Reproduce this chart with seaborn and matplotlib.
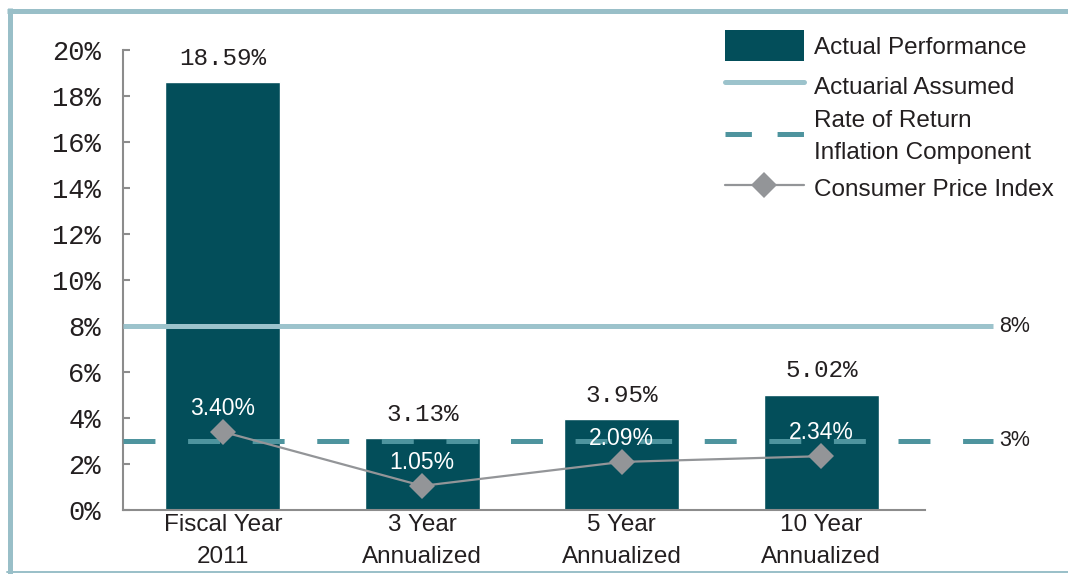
import numpy as np
import matplotlib
matplotlib.use("Agg")
import matplotlib.pyplot as plt
from matplotlib.lines import Line2D
from matplotlib.patches import Patch
import seaborn as sns

# ---- data ----
categories = ["Fiscal Year\n2011", "3 Year\nAnnualized", "5 Year\nAnnualized", "10 Year\nAnnualized"]
actual_performance = [18.59, 3.13, 3.95, 5.02]
consumer_price_index = [3.40, 1.05, 2.09, 2.34]
actuarial_assumed = 8
inflation_component = 3
y_ticks = [0, 2, 4, 6, 8, 10, 12, 14, 16, 18, 20]
legend_labels = ["Actual Performance", "Actuarial Assumed",
                 "Rate of Return\nInflation Component", "Consumer Price Index"]

# ---- style ----
sns.set_style("white")
plt.rcParams["font.family"] = ["Liberation Sans", "DejaVu Sans"]
plt.rcParams["lines.scale_dashes"] = False

BAR = "#034E5A"
LIGHT = "#9CC3CC"
DASH = "#4E949E"
GRAY = "#939598"
TEXT = "#231F20"
BORDER = "#99BFC8"
MONO = ["Liberation Mono", "DejaVu Sans Mono"]

fig = plt.figure(figsize=(10.68, 5.74), dpi=100)
ax = fig.add_axes([123 / 1068, 1 - 510 / 574, (925 - 123) / 1068, (510 - 50) / 574])

sns.barplot(x=categories, y=actual_performance, color=BAR, saturation=1,
            width=0.575, ax=ax, zorder=2)

n = len(categories)
xs = np.arange(n)
x_line = [-0.5, 3.86]
ax.plot(x_line, [actuarial_assumed] * 2, color=LIGHT, lw=3.6, clip_on=False, zorder=3,
        solid_capstyle="butt")
ax.plot(x_line, [inflation_component] * 2, color=DASH, lw=3.6, clip_on=False, zorder=3,
        linestyle=(0, (23, 23.5)), dash_capstyle="butt")
ax.text(3.89, actuarial_assumed, f"{actuarial_assumed}%", ha="left", va="center",
        fontsize=15.5, color=TEXT, clip_on=False)
ax.text(3.89, inflation_component, f"{inflation_component}%", ha="left", va="center",
        fontsize=15.5, color=TEXT, clip_on=False)

ax.plot(xs, consumer_price_index, color=GRAY, lw=1.6, marker="D", markersize=13,
        markeredgewidth=0, zorder=4)

# labels
cont = ax.containers[0]
ax.bar_label(cont, labels=[f"{v:.2f}%" for v in actual_performance], padding=9,
             fontsize=17.5, color=TEXT, family=MONO)
for x, v in zip(xs, consumer_price_index):
    ax.annotate(f"{v:.2f}%", (x, v), xytext=(0, 17), textcoords="offset points",
                ha="center", va="center", fontsize=16.5, color="white", zorder=5)

ax.set_xlim(-0.5, 3.52)
ax.set_ylim(0, 20)
ax.set_yticks(y_ticks)
ax.set_yticklabels([f"{t}%" for t in y_ticks], family=MONO, fontsize=19.5, color=TEXT)
ax.tick_params(axis="y", direction="in", length=5, width=1.5, color="#8C8C8C", pad=16, left=True)
ax.tick_params(axis="x", length=0, pad=3, labelsize=17.5, labelcolor=TEXT)
for lab in ax.get_xticklabels():
    lab.set_linespacing(1.55)
ax.set_xlabel("")
ax.set_ylabel("")
for s in ["top", "right"]:
    ax.spines[s].set_visible(False)
for s in ["left", "bottom"]:
    ax.spines[s].set_color("#8C8C8C")
    ax.spines[s].set_linewidth(1.5)

# legend
handles = [
    Patch(facecolor=BAR, edgecolor="none"),
    Line2D([], [], color=LIGHT, lw=3.6),
    Line2D([], [], color=DASH, lw=3.6, linestyle=(0, (19, 18.5)), dash_capstyle="butt"),
    Line2D([], [], color=GRAY, lw=1.6, marker="D", markersize=13, markeredgewidth=0),
]
leg = fig.legend(handles, legend_labels, loc="upper left",
                 bbox_to_anchor=(725 / 1068, 1 - 30 / 574), frameon=False,
                 fontsize=17.5, handlelength=3.25, handleheight=1.6, handletextpad=0.4,
                 labelspacing=0.36, borderpad=0, borderaxespad=0)
for t in leg.get_texts():
    t.set_color(TEXT)
    t.set_linespacing(1.6)

# border
fig.add_artist(Line2D([7 / 1068, 1], [1 - 10.5 / 574] * 2, color=BORDER, lw=3.6,
                      transform=fig.transFigure, solid_capstyle="butt"))
fig.add_artist(Line2D([9.5 / 1068] * 2, [0, 1 - 8 / 574], color=BORDER, lw=3.6,
                      transform=fig.transFigure, solid_capstyle="butt"))
fig.add_artist(Line2D([7 / 1068, 1], [1 - 572 / 574] * 2, color=BORDER, lw=1.4,
                      transform=fig.transFigure))

fig.savefig("out.png", dpi=100)
